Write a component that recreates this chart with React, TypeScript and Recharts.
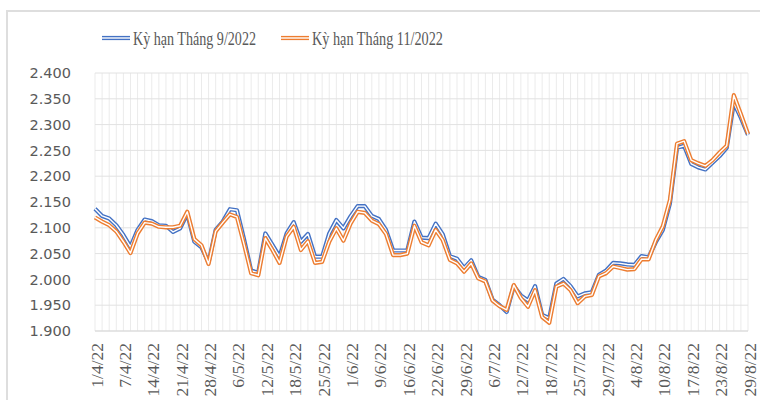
import { CartesianGrid, Line, LineChart, XAxis, YAxis } from 'recharts';

// Giá kỳ hạn theo ngày giao dịch, 1/4/22 – 29/8/22
const dates = [
	'1/4/22', '4/4/22', '5/4/22', '6/4/22', '7/4/22', '11/4/22', '12/4/22', '13/4/22', '14/4/22', '15/4/22',
	'19/4/22', '20/4/22', '21/4/22', '25/4/22', '26/4/22', '27/4/22', '28/4/22', '29/4/22', '4/5/22', '5/5/22',
	'6/5/22', '9/5/22', '10/5/22', '11/5/22', '12/5/22', '13/5/22', '16/5/22', '17/5/22', '18/5/22', '20/5/22',
	'23/5/22', '24/5/22', '25/5/22', '27/5/22', '30/5/22', '31/5/22', '1/6/22', '6/6/22', '7/6/22', '8/6/22',
	'9/6/22', '13/6/22', '14/6/22', '15/6/22', '16/6/22', '17/6/22', '20/6/22', '21/6/22', '22/6/22', '24/6/22',
	'27/6/22', '28/6/22', '29/6/22', '1/7/22', '4/7/22', '5/7/22', '6/7/22', '7/7/22', '8/7/22', '11/7/22',
	'12/7/22', '13/7/22', '14/7/22', '15/7/22', '18/7/22', '20/7/22', '21/7/22', '22/7/22', '25/7/22', '26/7/22',
	'27/7/22', '28/7/22', '29/7/22', '1/8/22', '2/8/22', '3/8/22', '4/8/22', '5/8/22', '8/8/22', '9/8/22',
	'10/8/22', '12/8/22', '15/8/22', '16/8/22', '17/8/22', '18/8/22', '19/8/22', '22/8/22', '23/8/22', '24/8/22',
	'25/8/22', '26/8/22', '29/8/22',
];

const sep2022 = [
	2.137, 2.123, 2.118, 2.105, 2.086, 2.063, 2.096, 2.116, 2.113, 2.105,
	2.104, 2.092, 2.099, 2.127, 2.073, 2.062, 2.033, 2.096, 2.112, 2.136,
	2.134, 2.078, 2.017, 2.013, 2.089, 2.067, 2.044, 2.089, 2.111, 2.073,
	2.088, 2.044, 2.044, 2.089, 2.115, 2.099, 2.122, 2.142, 2.142, 2.123,
	2.117, 2.096, 2.056, 2.056, 2.056, 2.112, 2.081, 2.08, 2.108, 2.087,
	2.045, 2.04, 2.022, 2.037, 2.005, 1.999, 1.961, 1.95, 1.937, 1.987,
	1.969, 1.959, 1.987, 1.931, 1.925, 1.992, 2.001, 1.987, 1.967, 1.973,
	1.975, 2.009, 2.017, 2.032, 2.031, 2.029, 2.028, 2.045, 2.043, 2.072,
	2.096, 2.147, 2.255, 2.259, 2.224, 2.217, 2.213, 2.226, 2.239, 2.255,
	2.342, 2.313, 2.28,
];

const nov2022 = [
	2.12, 2.112, 2.105, 2.093, 2.073, 2.051, 2.089, 2.11, 2.108, 2.102,
	2.101, 2.101, 2.104, 2.131, 2.078, 2.066, 2.03, 2.093, 2.11, 2.126,
	2.121, 2.068, 2.012, 2.008, 2.08, 2.057, 2.032, 2.083, 2.102, 2.057,
	2.074, 2.032, 2.034, 2.073, 2.099, 2.075, 2.108, 2.131, 2.129, 2.114,
	2.107, 2.088, 2.047, 2.047, 2.05, 2.104, 2.072, 2.066, 2.096, 2.076,
	2.038, 2.031, 2.015, 2.031, 2.002, 1.996, 1.959, 1.948, 1.941, 1.989,
	1.964, 1.947, 1.979, 1.927, 1.916, 1.986, 1.992, 1.979, 1.954, 1.967,
	1.97, 2.006, 2.012, 2.025, 2.022, 2.019, 2.02, 2.039, 2.039, 2.076,
	2.103, 2.154, 2.263, 2.268, 2.231, 2.225, 2.22, 2.231, 2.246, 2.259,
	2.357, 2.32, 2.282,
];

const yTicks = [1.9, 1.95, 2.0, 2.05, 2.1, 2.15, 2.2, 2.25, 2.3, 2.35, 2.4];

const series = [
	{ key: 'sep', name: 'Kỳ hạn Tháng 9/2022', color: '#4472C4' },
	{ key: 'nov', name: 'Kỳ hạn Tháng 11/2022', color: '#ED7D31' },
];

const data = dates.map((d, i) => ({ date: d, sep: sep2022[i], nov: nov2022[i] }));

const LABEL = '#595959';

function DateTick({ x, y, payload }: { x: number; y: number; payload: { value: string } }) {
	return (
		<text
			x={x}
			y={y}
			dx={-12}
			dy={7.5}
			textAnchor="end"
			transform={`rotate(-90 ${x} ${y})`}
			fill={LABEL}
			fontSize={17.5}
			fontFamily="Liberation Serif"
		>
			{payload.value}
		</text>
	);
}

// double-line swatch like Excel's compound line
function Swatch({ x, color }: { x: number; color: string }) {
	return (
		<g>
			<line x1={x} x2={x + 28} y1={38} y2={38} stroke={color} strokeWidth={4.2} />
			<line x1={x} x2={x + 28} y1={38} y2={38} stroke="#fff" strokeWidth={1.4} />
		</g>
	);
}

// one vertical grid line per category, also where the label is skipped
const categoryLines = ({ offset }: { offset: { left: number; width: number } }) =>
	dates.map((_, i) => offset.left + (i * offset.width) / (dates.length - 1));

export default function App() {
	return (
		<div style={{ position: 'absolute', left: 0, top: 0, width: 760, height: 400, overflow: 'hidden', background: '#fff' }}>
			<div
				style={{
					position: 'absolute',
					left: 6,
					top: 10,
					width: 800,
					height: 500,
					borderLeft: '2px solid #dedede',
					borderTop: '2px solid #dedede',
				}}
			/>
			<LineChart
				width={760}
				height={400}
				data={data}
				margin={{ top: 73, right: 12, bottom: 0, left: 0 }}
				style={{ position: 'absolute', left: 0, top: 0 }}
			>
				<CartesianGrid stroke="#ebebeb" horizontal={false} verticalCoordinatesGenerator={categoryLines as any} />
				<CartesianGrid stroke="#e2e2e2" vertical={false} />
				<XAxis
					dataKey="date"
					interval={3}
					height={69}
					tickSize={0}
					tickMargin={0}
					tickLine={false}
					axisLine={{ stroke: '#d9d9d9' }}
					tick={DateTick as any}
				/>
				<YAxis
					domain={[1.9, 2.4]}
					ticks={yTicks}
					width={95}
					tickSize={0}
					tickMargin={24}
					tickLine={false}
					axisLine={false}
					tick={{ fill: LABEL, fontSize: 14.5, fontFamily: 'DejaVu Sans' }}
					tickFormatter={(v: number) => v.toFixed(3)}
				/>
				{series.flatMap((s) => [
					<Line
						key={s.key + '-outer'}
						dataKey={s.key}
						stroke={s.color}
						strokeWidth={4.2}
						strokeLinejoin="round"
						dot={false}
						activeDot={false}
						isAnimationActive={false}
					/>,
					<Line
						key={s.key + '-inner'}
						dataKey={s.key}
						stroke="#fff"
						strokeWidth={1.4}
						strokeLinejoin="round"
						dot={false}
						activeDot={false}
						isAnimationActive={false}
					/>,
				])}
			</LineChart>
			<svg width={760} height={60} style={{ position: 'absolute', left: 0, top: 0 }}>
				<Swatch x={102} color={series[0].color} />
				<text x={133} y={45} fontSize={19.5} fontFamily="Liberation Serif" fill={LABEL} textLength={123} lengthAdjust="spacingAndGlyphs">
					{series[0].name}
				</text>
				<Swatch x={281} color={series[1].color} />
				<text x={312} y={45} fontSize={19.5} fontFamily="Liberation Serif" fill={LABEL} textLength={131} lengthAdjust="spacingAndGlyphs">
					{series[1].name}
				</text>
			</svg>
		</div>
	);
}
